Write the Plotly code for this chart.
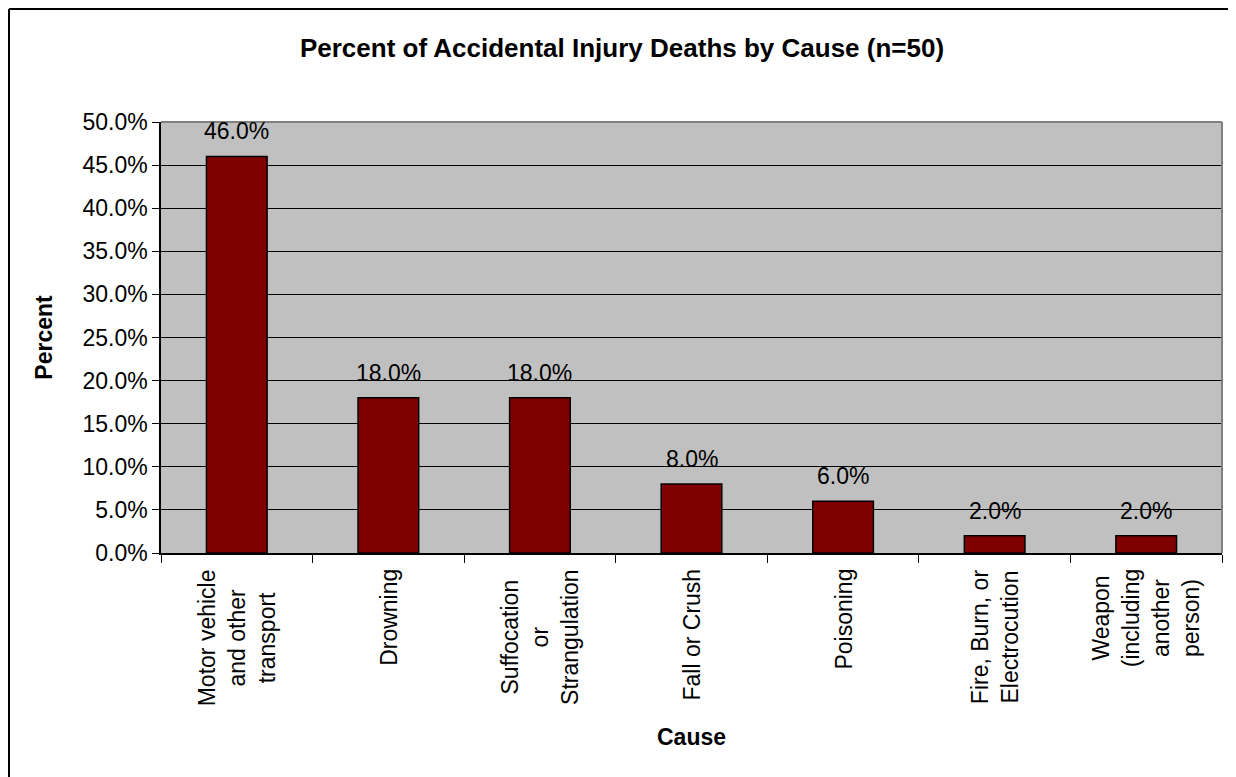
import plotly.graph_objects as go

# data
causes = [
    "Motor vehicle<br>and other<br>transport",
    "Drowning",
    "Suffocation<br>or<br>Strangulation",
    "Fall or Crush",
    "Poisoning",
    "Fire, Burn, or<br>Electrocution",
    "Weapon<br>(including<br>another<br>person)",
]
percent = [0.46, 0.18, 0.18, 0.08, 0.06, 0.02, 0.02]
y_ticks = [0.0, 0.05, 0.10, 0.15, 0.20, 0.25, 0.30, 0.35, 0.40, 0.45, 0.50]

bar_color = "#800000"
plot_bgcolor = "#C0C0C0"
font_family = "Liberation Sans, Arial, sans-serif"

# page has an 8px body margin, so the figure is a bit smaller
W, H = 1228, 769
L, R, T, B = 153, 14, 114, 224
pw, ph = W - L - R, H - T - B

# keep the categories unique (used as x keys)
xkeys = [c.replace("<br>", " ") for c in causes]

fig = go.Figure()
fig.add_trace(
    go.Bar(
        x=xkeys,
        y=percent,
        marker=dict(color=bar_color, line=dict(color="black", width=1.5)),
        showlegend=False,
        hoverinfo="skip",
    )
)

annotations = []
# value labels above bars
for k, v in zip(xkeys, percent):
    annotations.append(
        dict(
            x=k, y=v, xref="x", yref="y", text=f"{v:.1%}", showarrow=False,
            yanchor="bottom", yshift=10, font=dict(size=23, color="black"),
        )
    )
# category labels, rotated, centred lines
for k, c in zip(xkeys, causes):
    annotations.append(
        dict(
            x=k, y=-14 / ph, xref="x", yref="paper", text=c, showarrow=False,
            textangle=-90, yanchor="top", xanchor="center", align="center",
            font=dict(size=23, color="black"),
        )
    )
# x axis title
annotations.append(
    dict(
        x=0.5, y=-184 / ph, xref="paper", yref="paper", text="<b>Cause</b>",
        showarrow=False, yanchor="middle", font=dict(size=23, color="black"),
    )
)

fx = lambda px: (px - L) / pw
fy = lambda py: (H - B - py) / ph

shapes = [
    # outer frame (top + left visible)
    dict(type="line", xref="paper", yref="paper", x0=fx(1), x1=fx(1), y0=fy(800), y1=fy(1),
         line=dict(color="black", width=2)),
    dict(type="line", xref="paper", yref="paper", x0=fx(1), x1=fx(1260), y0=fy(1), y1=fy(1),
         line=dict(color="black", width=2)),
    # plot area border top/right
    dict(type="line", xref="paper", yref="paper", x0=0, x1=1, y0=1, y1=1,
         line=dict(color="#808080", width=2)),
    dict(type="line", xref="paper", yref="paper", x0=1, x1=1, y0=0, y1=1,
         line=dict(color="#808080", width=2)),
]

fig.update_layout(
    width=W,
    height=H,
    margin=dict(l=L, r=R, t=T, b=B, autoexpand=False),
    paper_bgcolor="white",
    plot_bgcolor=plot_bgcolor,
    font=dict(family=font_family, color="black", size=23),
    title=dict(
        text="<b>Percent of Accidental Injury Deaths by Cause (n=50)</b>",
        x=614 / W, xanchor="center", xref="container",
        y=1 - 40 / H, yanchor="middle", font=dict(size=26, color="black"),
    ),
    bargap=0.6,
    annotations=annotations,
    shapes=shapes,
)
fig.update_xaxes(
    showticklabels=False,
    showline=True, linecolor="black", linewidth=1.5,
    ticks="outside", ticklen=8, tickcolor="black", tickwidth=1, tickson="boundaries",
    showgrid=False,
)
fig.update_yaxes(
    range=[0, 0.5],
    tickvals=y_ticks,
    tickformat=".1%",
    showline=True, linecolor="black", linewidth=1.5,
    ticks="outside", ticklen=7, tickcolor="black", tickwidth=1,
    showgrid=True, gridcolor="black", gridwidth=1,
    zeroline=False,
    tickfont=dict(size=23),
    title=dict(text="<b>Percent</b>", font=dict(size=23), standoff=23),
)

fig.write_html("out.html")
